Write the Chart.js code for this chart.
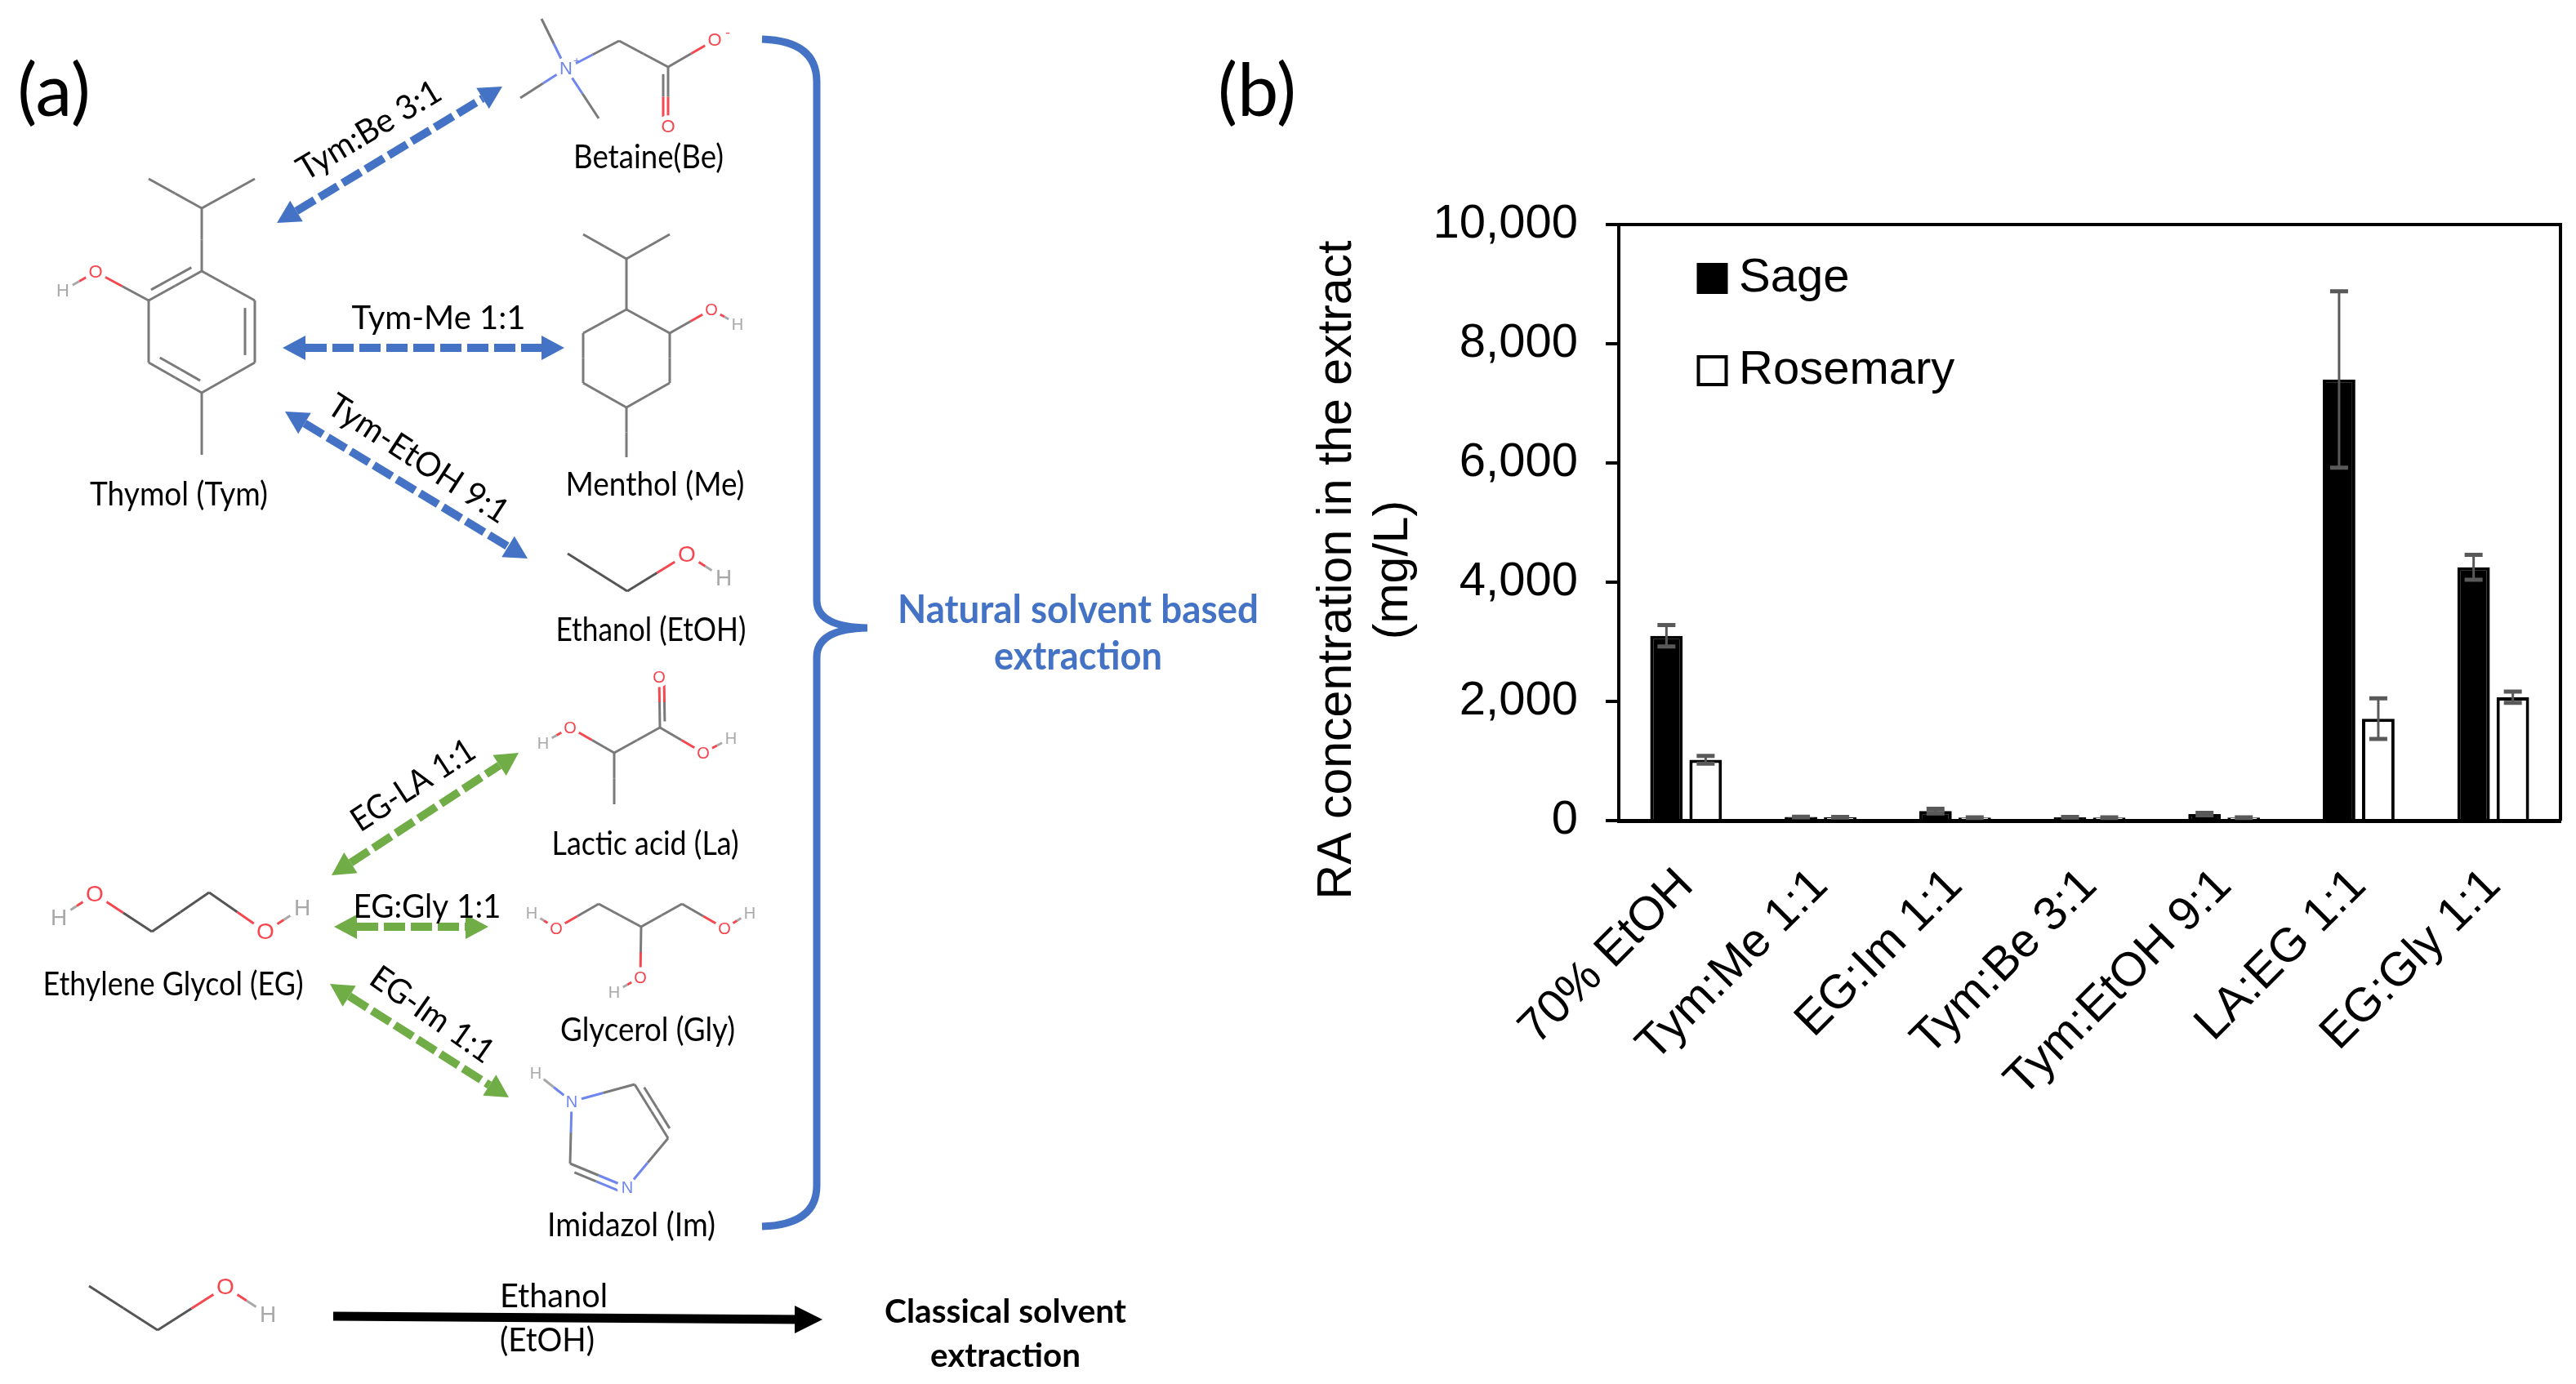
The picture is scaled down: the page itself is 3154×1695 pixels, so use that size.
<!DOCTYPE html>
<html>
<head>
<meta charset="utf-8">
<title>RA concentration</title>
<script src="https://cdn.jsdelivr.net/npm/chart.js"></script>
<style>
  html, body { margin: 0; padding: 0; background: #fff; }
  canvas { display: block; }
</style>
</head>
<body>
<canvas id="chart" width="3154" height="1695"></canvas>
<script>
const categories = ['70% EtOH', 'Tym:Me 1:1', 'EG:Im 1:1', 'Tym:Be 3:1', 'Tym:EtOH 9:1', 'LA:EG 1:1', 'EG:Gly 1:1'];
const sageValues = [3100, 60, 160, 55, 110, 7400, 4250];
const sageErrors = [180, 5, 40, 5, 20, 1480, 210];
const rosemaryValues = [1020, 55, 50, 50, 50, 1710, 2070];
const rosemaryErrors = [65, 5, 5, 5, 5, 340, 95];
const yTicks = [0, 2000, 4000, 6000, 8000, 10000];
const yTitle = ['RA concentration in the extract', '(mg/L)'];

const BLUE = '#4472C4';
const GREEN = '#70AD47';
const BOND = '#7a7a7a';
const ATOM = { O: '#f4474f', H: '#a8a8a8', N: '#6f86ee' };

function label(ctx, str, cx, cy, w, opts = {}) {
  ctx.save();
  ctx.translate(cx, cy);
  ctx.rotate((opts.angle || 0) * Math.PI / 180);
  ctx.font = (opts.weight || 'normal') + ' ' + (opts.size || 41) + 'px Lato';
  ctx.fillStyle = opts.color || '#000';
  ctx.textAlign = 'center';
  ctx.textBaseline = 'middle';
  ctx.fillText(str, 0, 0, w);
  ctx.restore();
}

function head(ctx, x, y, ang, len, hw) {
  ctx.beginPath();
  ctx.moveTo(x, y);
  ctx.lineTo(x - len * Math.cos(ang) + hw * Math.sin(ang), y - len * Math.sin(ang) - hw * Math.cos(ang));
  ctx.lineTo(x - len * Math.cos(ang) - hw * Math.sin(ang), y - len * Math.sin(ang) + hw * Math.cos(ang));
  ctx.closePath();
  ctx.fill();
}

function dashedArrow(ctx, x1, y1, x2, y2, color) {
  const ang = Math.atan2(y2 - y1, x2 - x1);
  const len = 28;
  ctx.save();
  ctx.strokeStyle = color;
  ctx.fillStyle = color;
  ctx.lineWidth = 10;
  ctx.setLineDash([26, 7]);
  ctx.beginPath();
  ctx.moveTo(x1 + len * Math.cos(ang), y1 + len * Math.sin(ang));
  ctx.lineTo(x2 - len * Math.cos(ang), y2 - len * Math.sin(ang));
  ctx.stroke();
  head(ctx, x2, y2, ang, len, 15);
  head(ctx, x1, y1, ang + Math.PI, len, 15);
  ctx.restore();
}

// nodes: [x, y, atom or nothing], bonds: [from, to, offset of the second line]
function molecule(ctx, nodes, bonds, atomSize = 22, color = BOND) {
  ctx.save();
  ctx.lineWidth = 3;
  bonds.forEach(([a, b, off]) => {
    const [x1, y1, e1] = nodes[a];
    const [x2, y2, e2] = nodes[b];
    const mx = (x1 + x2) / 2, my = (y1 + y2) / 2;
    const seg = (ax, ay, bx, by, c) => {
      ctx.strokeStyle = c;
      ctx.beginPath();
      ctx.moveTo(ax, ay);
      ctx.lineTo(bx, by);
      ctx.stroke();
    };
    seg(x1, y1, mx, my, e1 ? ATOM[e1] : color);
    seg(mx, my, x2, y2, e2 ? ATOM[e2] : color);
    if (off) {
      const L = Math.hypot(x2 - x1, y2 - y1);
      const nx = -(y2 - y1) / L * off, ny = (x2 - x1) / L * off;
      const tx = (x2 - x1) * 0.12, ty = (y2 - y1) * 0.12;
      seg(x1 + nx + tx, y1 + ny + ty, mx + nx, my + ny, e1 ? ATOM[e1] : color);
      seg(mx + nx, my + ny, x2 + nx - tx, y2 + ny - ty, e2 ? ATOM[e2] : color);
    }
  });
  nodes.forEach(([x, y, e]) => {
    if (!e) return;
    ctx.fillStyle = '#fff';
    ctx.beginPath();
    ctx.arc(x, y, atomSize * 0.62, 0, Math.PI * 2);
    ctx.fill();
    ctx.fillStyle = ATOM[e];
    ctx.font = atomSize + 'px "Liberation Sans"';
    ctx.textAlign = 'center';
    ctx.textBaseline = 'middle';
    ctx.fillText(e, x, y + 1);
  });
  ctx.restore();
}

function drawDiagram(ctx) {
  label(ctx, '(a)', 66, 113, 92, { size: 90 });
  label(ctx, '(b)', 1539, 113, 96, { size: 90 });

  // thymol
  molecule(ctx, [[182, 219], [247, 255], [312, 219], [247, 332], [312, 368], [312, 444], [247, 481], [182, 444], [182, 368], [247, 557], [117, 333, 'O'], [77, 356, 'H']],
    [[0, 1], [1, 2], [1, 3], [3, 4], [4, 5, 12], [5, 6], [6, 7, 12], [7, 8], [8, 3, -10], [6, 9], [8, 10], [10, 11]]);
  label(ctx, 'Thymol (Tym)', 219, 606, 218);

  // betaine
  molecule(ctx, [[693, 84, 'N'], [663, 23], [637, 120], [733, 145], [758, 50], [818, 82], [875, 49, 'O'], [818, 155, 'O']],
    [[0, 1], [0, 2], [0, 3], [0, 4], [4, 5], [5, 6], [5, 7, 6]]);
  label(ctx, '+', 706, 74, 10, { size: 14, color: ATOM.N });
  label(ctx, '-', 891, 40, 8, { size: 18, color: ATOM.O });
  label(ctx, 'Betaine(Be)', 794, 193, 184);

  // menthol
  molecule(ctx, [[714, 287], [767, 317], [820, 287], [767, 379], [820, 408], [820, 469], [767, 499], [714, 469], [714, 408], [767, 560], [871, 379, 'O'], [903, 397, 'H']],
    [[0, 1], [1, 2], [1, 3], [3, 4], [4, 5], [5, 6], [6, 7], [7, 8], [8, 3], [6, 9], [4, 10], [10, 11]], 20);
  label(ctx, 'Menthol (Me)', 802, 594, 219);

  // ethanol
  molecule(ctx, [[695, 678], [768, 724], [841, 679, 'O'], [886, 708, 'H']], [[0, 1], [1, 2], [2, 3]], 28, '#555');
  label(ctx, 'Ethanol (EtOH)', 797, 772, 233);

  // lactic acid
  molecule(ctx, [[665, 910, 'H'], [698, 891, 'O'], [752, 922], [808, 891], [807, 829, 'O'], [861, 922, 'O'], [895, 904, 'H'], [752, 985]],
    [[0, 1], [1, 2], [2, 3], [3, 4, 6], [3, 5], [5, 6], [2, 7]], 20);
  label(ctx, 'Lactic acid (La)', 790, 1034, 229);

  // ethylene glycol
  molecule(ctx, [[72, 1124, 'H'], [116, 1095, 'O'], [186, 1141], [256, 1093], [325, 1141, 'O'], [370, 1112, 'H']],
    [[0, 1], [1, 2], [2, 3], [3, 4], [4, 5]], 28, '#555');
  label(ctx, 'Ethylene Glycol (EG)', 212, 1206, 319);

  // glycerol
  molecule(ctx, [[651, 1118, 'H'], [681, 1137, 'O'], [733, 1107], [785, 1135], [835, 1107], [887, 1137, 'O'], [918, 1118, 'H'], [784, 1197, 'O'], [752, 1215, 'H']],
    [[0, 1], [1, 2], [2, 3], [3, 4], [4, 5], [5, 6], [3, 7], [7, 8]], 20);
  label(ctx, 'Glycerol (Gly)', 793, 1262, 214);

  // imidazole
  molecule(ctx, [[656, 1314, 'H'], [700, 1349, 'N'], [777, 1328], [818, 1394], [768, 1454, 'N'], [698, 1425]],
    [[0, 1], [1, 2], [2, 3, -8], [3, 4], [4, 5, -8], [5, 1]], 20);
  label(ctx, 'Imidazol (Im)', 773, 1501, 206);

  // ethanol, classical route
  molecule(ctx, [[109, 1575], [193, 1629], [276, 1576, 'O'], [328, 1610, 'H']], [[0, 1], [1, 2], [2, 3]], 28, '#555');

  dashedArrow(ctx, 339, 273, 615, 106, BLUE);
  dashedArrow(ctx, 346, 426, 691, 426, BLUE);
  dashedArrow(ctx, 349, 504, 646, 684, BLUE);
  dashedArrow(ctx, 406, 1072, 635, 922, GREEN);
  dashedArrow(ctx, 409, 1135, 598, 1135, GREEN);
  dashedArrow(ctx, 404, 1205, 623, 1344, GREEN);

  label(ctx, 'Tym:Be 3:1', 452, 160, 198, { angle: -31 });
  label(ctx, 'Tym-Me 1:1', 537, 390, 213);
  label(ctx, 'Tym-EtOH 9:1', 512, 562, 255, { angle: 33 });
  label(ctx, 'EG-LA 1:1', 506, 962, 172, { angle: -33 });
  label(ctx, 'EG:Gly 1:1', 523, 1111, 181);
  label(ctx, 'EG-Im 1:1', 529, 1243, 175, { angle: 35 });

  // brace
  ctx.save();
  ctx.strokeStyle = BLUE;
  ctx.lineWidth = 9;
  ctx.beginPath();
  ctx.moveTo(933, 48);
  ctx.quadraticCurveTo(1000, 50, 1000, 100);
  ctx.lineTo(1000, 735);
  ctx.quadraticCurveTo(1000, 768, 1062, 769);
  ctx.quadraticCurveTo(1000, 770, 1000, 805);
  ctx.lineTo(1000, 1452);
  ctx.quadraticCurveTo(1000, 1500, 933, 1502);
  ctx.stroke();
  ctx.restore();
  label(ctx, 'Natural solvent based', 1320, 748, 442, { size: 47, weight: 'bold', color: BLUE });
  label(ctx, 'extraction', 1320, 805, 206, { size: 47, weight: 'bold', color: BLUE });

  // black arrow
  ctx.save();
  ctx.strokeStyle = '#000';
  ctx.fillStyle = '#000';
  ctx.lineWidth = 11;
  ctx.beginPath();
  ctx.moveTo(408, 1612);
  ctx.lineTo(985, 1616);
  ctx.stroke();
  head(ctx, 1007, 1616, 0, 34, 17);
  ctx.restore();
  label(ctx, 'Ethanol', 678, 1588, 132);
  label(ctx, '(EtOH)', 670, 1642, 116);
  label(ctx, 'Classical solvent', 1231, 1607, 296, { size: 41, weight: 'bold' });
  label(ctx, 'extraction', 1231, 1661, 184, { size: 41, weight: 'bold' });
}

const framePlugin = {
  id: 'frame',
  afterLayout(chart) {
    // legend sits inside the plot, upper left
    chart.legend.left = 2038;
    chart.legend.top = 257;
    chart.legend.right = chart.chartArea.right;
    chart.legend.bottom = chart.chartArea.bottom;
  },
  beforeDatasetsDraw(chart) {
    const { ctx, chartArea: a } = chart;
    ctx.save();
    ctx.strokeStyle = '#000';
    ctx.lineWidth = 4;
    ctx.beginPath();
    ctx.moveTo(a.left, a.top);
    ctx.lineTo(a.right, a.top);
    ctx.lineTo(a.right, a.bottom);
    ctx.stroke();
    ctx.restore();
  },
  afterDatasetsDraw(chart) {
    const { ctx, scales } = chart;
    const errs = [sageErrors, rosemaryErrors];
    ctx.save();
    ctx.strokeStyle = '#595959';
    chart.data.datasets.forEach((ds, d) => {
      chart.getDatasetMeta(d).data.forEach((bar, i) => {
        const hi = scales.y.getPixelForValue(ds.data[i] + errs[d][i]);
        const lo = Math.min(scales.y.getPixelForValue(ds.data[i] - errs[d][i]), scales.y.bottom);
        ctx.lineWidth = 3;
        ctx.beginPath();
        ctx.moveTo(bar.x, hi);
        ctx.lineTo(bar.x, lo);
        ctx.stroke();
        ctx.lineWidth = 5;
        ctx.beginPath();
        ctx.moveTo(bar.x - 11, hi);
        ctx.lineTo(bar.x + 11, hi);
        ctx.moveTo(bar.x - 11, lo);
        ctx.lineTo(bar.x + 11, lo);
        ctx.stroke();
      });
    });
    ctx.restore();
  },
  afterDraw(chart) {
    const { ctx } = chart;
    ctx.save();
    ctx.fillStyle = '#000';
    ctx.font = '59px "Liberation Sans"';
    ctx.textAlign = 'center';
    ctx.textBaseline = 'middle';
    ctx.translate(1638, 698);
    ctx.rotate(-Math.PI / 2);
    ctx.fillText(yTitle[0], 0, 0);
    ctx.fillText(yTitle[1], 0, 69);
    ctx.restore();
    drawDiagram(ctx);
  }
};

new Chart(document.getElementById('chart'), {
  type: 'bar',
  data: {
    labels: categories,
    datasets: [
      { label: 'Sage', data: sageValues, backgroundColor: '#000', borderColor: '#000', borderWidth: 4 },
      { label: 'Rosemary', data: rosemaryValues, backgroundColor: '#fff', borderColor: '#000', borderWidth: 4 }
    ]
  },
  options: {
    responsive: false,
    animation: false,
    devicePixelRatio: 1,
    categoryPercentage: 0.583,
    barPercentage: 0.83,
    layout: { padding: { left: 0, top: 275, right: 19, bottom: 0 } },
    plugins: {
      tooltip: { enabled: false },
      legend: {
        position: 'chartArea',
        align: 'start',
        labels: {
          usePointStyle: true,
          pointStyle: 'rect',
          boxWidth: 7,
          boxHeight: 34,
          padding: 55,
          color: '#000',
          font: { family: '"Liberation Sans"', size: 58 }
        }
      }
    },
    scales: {
      x: {
        afterFit(scale) { scale.height = 690; },
        grid: { display: false },
        border: { color: '#000', width: 5 },
        ticks: {
          autoSkip: false,
          minRotation: 45,
          maxRotation: 45,
          padding: 38,
          color: '#000',
          font: { family: '"Liberation Sans"', size: 58 }
        }
      },
      y: {
        min: 0,
        max: 10000,
        afterFit(scale) { scale.width = 1982; },
        afterBuildTicks(scale) { scale.ticks = yTicks.map(v => ({ value: v })); },
        grid: { drawOnChartArea: false, color: '#000', lineWidth: 4, tickLength: 16 },
        border: { color: '#000', width: 4 },
        ticks: {
          padding: 34,
          color: '#000',
          font: { family: '"Liberation Sans"', size: 58 },
          callback: v => v.toLocaleString('en-US')
        }
      }
    }
  },
  plugins: [framePlugin]
});
</script>
</body>
</html>
